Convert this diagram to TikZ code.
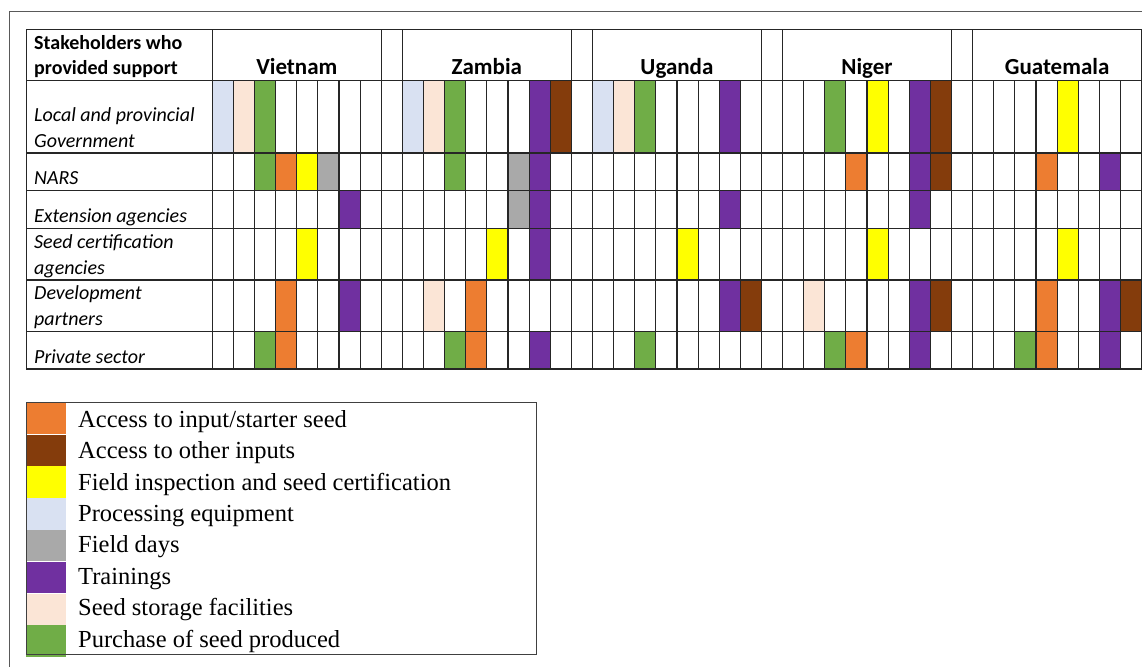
\documentclass[tikz,border=0pt]{standalone}
\usepackage{fontspec}
\setmainfont{Liberation Serif}
\newfontfamily\calibri{Carlito}
\usetikzlibrary{positioning}

\definecolor{inputseed}{HTML}{ED7D31}
\definecolor{otherinput}{HTML}{843C0C}
\definecolor{inspection}{HTML}{FFFF00}
\definecolor{equipment}{HTML}{D9E1F2}
\definecolor{fielddays}{HTML}{A9A9A9}
\definecolor{trainings}{HTML}{7030A0}
\definecolor{storage}{HTML}{FBE5D6}
\definecolor{purchase}{HTML}{70AD47}

\newcommand{\colw}{21.12}
\newcommand{\rowtop}[1]{\ifcase#1 29.3\or 80.3\or 153\or 190.7\or 228.7\or 280\or 331.3\fi}
\newcommand{\rowbot}[1]{\ifcase#1 80.3\or 153\or 190.7\or 228.7\or 280\or 331.3\or 369\fi}
\newcommand{\cellfill}[3]{\fill[#3] ({(#1-1)*\colw},{\rowtop{#2}}) rectangle ({#1*\colw},{\rowbot{#2}});}

\begin{document}
\begin{tikzpicture}
    [x=1pt, y=-1pt,
     grid/.style={line width=1.1pt, draw=black!85, line cap=rect},
     rowlabel/.style={anchor=base west, align=left, inner sep=0pt, font=\calibri\itshape\fontsize{20}{25.7}\selectfont},
     headlabel/.style={anchor=base west, align=left, inner sep=0pt, font=\calibri\bfseries\fontsize{20}{25.7}\selectfont},
     country/.style={anchor=base, inner sep=0pt, font=\calibri\bfseries\fontsize{23}{27}\selectfont},
     swatch/.style={rectangle, minimum width=40pt, minimum height=31.4pt, inner sep=0pt},
     legtext/.style={anchor=base west, inner sep=0pt, font=\fontsize{24.5}{29}\selectfont}]

    \useasboundingbox (0,0) rectangle (1142,666);
    \clip (0,0) rectangle (1142,666);
    \draw[black!65, line width=0.8pt] (9,11) rectangle (1170,690);

    % Vietnam
    \begin{scope}[shift={(212.3,0)}]
      \cellfill{1}{1}{equipment}
      \cellfill{2}{1}{storage}
      \cellfill{3}{1}{purchase}
      \cellfill{3}{2}{purchase}
      \cellfill{4}{2}{inputseed}
      \cellfill{5}{2}{inspection}
      \cellfill{6}{2}{fielddays}
      \cellfill{7}{3}{trainings}
      \cellfill{5}{4}{inspection}
      \cellfill{4}{5}{inputseed}
      \cellfill{7}{5}{trainings}
      \cellfill{3}{6}{purchase}
      \cellfill{4}{6}{inputseed}
      \node[country] (vietnam) at ({4*\colw},75) {Vietnam};
    \end{scope}

    % Zambia
    \begin{scope}[shift={(402.38,0)}]
      \cellfill{1}{1}{equipment}
      \cellfill{2}{1}{storage}
      \cellfill{3}{1}{purchase}
      \cellfill{7}{1}{trainings}
      \cellfill{8}{1}{otherinput}
      \cellfill{3}{2}{purchase}
      \cellfill{6}{2}{fielddays}
      \cellfill{7}{2}{trainings}
      \cellfill{6}{3}{fielddays}
      \cellfill{7}{3}{trainings}
      \cellfill{5}{4}{inspection}
      \cellfill{7}{4}{trainings}
      \cellfill{2}{5}{storage}
      \cellfill{4}{5}{inputseed}
      \cellfill{3}{6}{purchase}
      \cellfill{4}{6}{inputseed}
      \cellfill{7}{6}{trainings}
      \node[country] (zambia) at ({4*\colw},75) {Zambia};
    \end{scope}

    % Uganda
    \begin{scope}[shift={(592.46,0)}]
      \cellfill{1}{1}{equipment}
      \cellfill{2}{1}{storage}
      \cellfill{3}{1}{purchase}
      \cellfill{7}{1}{trainings}
      \cellfill{7}{3}{trainings}
      \cellfill{5}{4}{inspection}
      \cellfill{7}{5}{trainings}
      \cellfill{8}{5}{otherinput}
      \cellfill{3}{6}{purchase}
      \node[country] (uganda) at ({4*\colw},75) {Uganda};
    \end{scope}

    % Niger
    \begin{scope}[shift={(782.54,0)}]
      \cellfill{3}{1}{purchase}
      \cellfill{5}{1}{inspection}
      \cellfill{7}{1}{trainings}
      \cellfill{8}{1}{otherinput}
      \cellfill{4}{2}{inputseed}
      \cellfill{7}{2}{trainings}
      \cellfill{8}{2}{otherinput}
      \cellfill{7}{3}{trainings}
      \cellfill{5}{4}{inspection}
      \cellfill{2}{5}{storage}
      \cellfill{7}{5}{trainings}
      \cellfill{8}{5}{otherinput}
      \cellfill{3}{6}{purchase}
      \cellfill{4}{6}{inputseed}
      \cellfill{7}{6}{trainings}
      \node[country] (niger) at ({4*\colw},75) {Niger};
    \end{scope}

    % Guatemala
    \begin{scope}[shift={(972.62,0)}]
      \cellfill{5}{1}{inspection}
      \cellfill{4}{2}{inputseed}
      \cellfill{7}{2}{trainings}
      \cellfill{5}{4}{inspection}
      \cellfill{4}{5}{inputseed}
      \cellfill{7}{5}{trainings}
      \cellfill{8}{5}{otherinput}
      \cellfill{3}{6}{purchase}
      \cellfill{4}{6}{inputseed}
      \cellfill{7}{6}{trainings}
      \node[country] (guatemala) at ({4*\colw},75) {Guatemala};
    \end{scope}

    % table lines
    \foreach \y in {29.3,80.3,153,190.7,228.7,280,331.3,369}
      \draw[grid] (26.7,\y) -- (1141.6,\y);
    \draw[grid] (26.7,29.3) -- (26.7,369);
    \foreach \k in {0,8,9,17,18,26,27,35,36,44}
      \draw[grid] ({212.3+\k*\colw},29.3) -- ({212.3+\k*\colw},369);
    \foreach \c in {0,9,18,27,36}
      \foreach \j in {1,...,7}
        \draw[grid] ({212.3+(\c+\j)*\colw},80.3) -- ({212.3+(\c+\j)*\colw},369);

    % row labels
    \node[headlabel] (stake) at (34,75) {Stakeholders who\\provided support};
    \node[rowlabel] (local) at (34,147.3) {Local and provincial\\Government};
    \node[rowlabel] (nars) at (34,184.3) {NARS};
    \node[rowlabel] (extension) at (34,222.7) {Extension agencies};
    \node[rowlabel] (seedcert) at (34,274) {Seed certification\\agencies};
    \node[rowlabel] (devpart) at (34,325.3) {Development\\partners};
    \node[rowlabel] (private) at (34,363) {Private sector};

    % legend
    \node[swatch, fill=inputseed] (sw1) at (46,418.4) {};
    \node[swatch, fill=otherinput] (sw2) [below=0pt of sw1] {};
    \node[swatch, fill=inspection] (sw3) [below=0pt of sw2] {};
    \node[swatch, fill=equipment] (sw4) [below=0pt of sw3] {};
    \node[swatch, fill=fielddays] (sw5) [below=0pt of sw4] {};
    \node[swatch, fill=trainings] (sw6) [below=0pt of sw5] {};
    \node[swatch, fill=storage] (sw7) [below=0pt of sw6] {};
    \node[swatch, fill=purchase] (sw8) [below=0pt of sw7] {};

    \node[legtext] (leg1) at (78,427.3) {Access to input/starter seed};
    \node[legtext] (leg2) at (78,458.7) {Access to other inputs};
    \node[legtext] (leg3) at (78,490.1) {Field inspection and seed certification};
    \node[legtext] (leg4) at (78,521.5) {Processing equipment};
    \node[legtext] (leg5) at (78,552.9) {Field days};
    \node[legtext] (leg6) at (78,584.3) {Trainings};
    \node[legtext] (leg7) at (78,615.7) {Seed storage facilities};
    \node[legtext] (leg8) at (78,647.1) {Purchase of seed produced};

    \draw[black!75, line width=0.9pt] (26,402.7) rectangle (536,654);
  \end{tikzpicture}
\end{document}
